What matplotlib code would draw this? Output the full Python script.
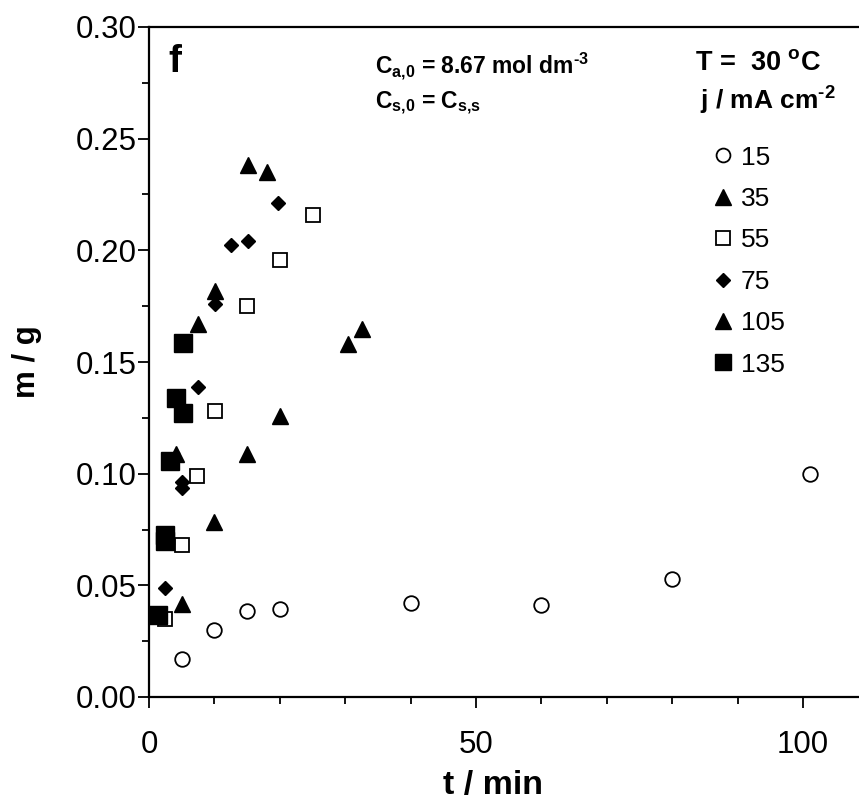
import matplotlib
matplotlib.use("Agg")
import matplotlib.pyplot as plt

plt.rcParams['font.family'] = ['Liberation Sans', 'DejaVu Sans']
plt.rcParams['mathtext.fontset'] = 'custom'
plt.rcParams['mathtext.rm'] = 'Liberation Sans'
plt.rcParams['mathtext.bf'] = 'Liberation Sans:bold'
plt.rcParams['mathtext.it'] = 'Liberation Sans:italic'

# data: t / min, m / g for each current density j / mA cm^-2
t_15 = [5, 10, 15, 20, 40, 60, 80, 101]
m_15 = [0.017, 0.030, 0.0387, 0.0394, 0.042, 0.041, 0.053, 0.100]

t_35 = [5, 10, 15, 20, 30.5, 32.6]
m_35 = [0.0416, 0.0785, 0.1088, 0.126, 0.158, 0.1647]

t_55 = [2.4, 5.0, 7.4, 10.1, 15.0, 20.1, 25.1]
m_55 = [0.0350, 0.068, 0.099, 0.128, 0.175, 0.1957, 0.2158]

t_75 = [2.4, 5.0, 5.0, 7.5, 10.1, 12.5, 15.2, 19.7]
m_75 = [0.0487, 0.0937, 0.0961, 0.1387, 0.176, 0.2024, 0.2043, 0.2214]

t_105 = [4.1, 7.5, 10.1, 15.2, 18.0]
m_105 = [0.109, 0.167, 0.182, 0.238, 0.235]

t_135 = [1.4, 2.4, 2.4, 3.2, 4.2, 5.2, 5.2]
m_135 = [0.0367, 0.0725, 0.0700, 0.1055, 0.1337, 0.127, 0.1587]

labels = ['15', '35', '55', '75', '105', '135']

fig = plt.figure(figsize=(8.59, 8.06), dpi=100)
ax = fig.add_axes([149/859, (806-697)/806, (859-149)/859, (697-27)/806])

h1, = ax.plot(t_15, m_15, 'o', ms=10.5, mfc='white', mec='black', mew=1.3, label=labels[0])
h2, = ax.plot(t_35, m_35, '^', ms=11.5, color='black', label=labels[1])
h3, = ax.plot(t_55, m_55, 's', ms=10.5, mfc='white', mec='black', mew=1.3, label=labels[2])
h4, = ax.plot(t_75, m_75, 'D', ms=7.6, color='black', label=labels[3])
h5, = ax.plot(t_105, m_105, '^', ms=11.5, color='black', label=labels[4])
h6, = ax.plot(t_135, m_135, 's', ms=12.5, color='black', label=labels[5])

ax.set_xlim(0, 710/6.54)
ax.set_ylim(0, 0.30)
ax.set_xticks([0, 50, 100])
ax.set_xticks(range(0, 110, 10), minor=True)
ax.set_yticks([0, 0.05, 0.10, 0.15, 0.20, 0.25, 0.30])
ax.set_yticks([0.025, 0.075, 0.125, 0.175, 0.225, 0.275], minor=True)
ax.set_yticklabels(['0.00', '0.05', '0.10', '0.15', '0.20', '0.25', '0.30'])
ax.tick_params(which='major', length=8, width=1.3, labelsize=22.5)
ax.tick_params(which='minor', length=5, width=1.3)
ax.tick_params(axis='x', which='major', pad=15.5)
ax.tick_params(axis='y', which='major', pad=1)
for s in ['left', 'bottom', 'top']:
    ax.spines[s].set_linewidth(1.6)
ax.spines['right'].set_visible(False)

ax.set_xlabel('t / min', fontsize=24.5, fontweight='bold')
ax.xaxis.set_label_coords((493-149)/710, -(770-697)/670, transform=ax.transAxes)
ax.xaxis.label.set_verticalalignment('top')
ax.set_ylabel('m / g', fontsize=22.5, fontweight='bold', labelpad=24)

ax.text(0.027, 0.975, 'f', transform=ax.transAxes, fontsize=28, fontweight='bold',
        ha='left', va='top')
ax.text(0.318, 0.965, 'C$_{\\mathbf{a{,}0}}$ = 8.67 mol dm$^{\\mathbf{\u20103}}$', transform=ax.transAxes,
        fontsize=16.5, fontweight='bold', ha='left', va='top')
ax.text(0.318, 0.906, r'C$_{\mathbf{s{,}0}}$ = C$_{\mathbf{s{,}s}}$', transform=ax.transAxes,
        fontsize=16.5, fontweight='bold', ha='left', va='top')
ax.text(0.858, 0.966, r'T =  30 $^{\mathbf{o}}$C', transform=ax.transAxes,
        fontsize=19.5, fontweight='bold', ha='center', va='top')
ax.text(0.872, 0.914, 'j / mA cm$^{\\mathbf{\u20102}}$', transform=ax.transAxes,
        fontsize=19, fontweight='bold', ha='center', va='top')

leg = ax.legend(handles=[h1, h2, h3, h4, h5, h6], loc='upper left',
                bbox_to_anchor=(0.793, 0.823), frameon=False, fontsize=19,
                handlelength=0.8, handletextpad=0.3, labelspacing=0.66,
                numpoints=1, markerscale=0.95, borderaxespad=0, borderpad=0)

fig.savefig('out.png', dpi=100)
